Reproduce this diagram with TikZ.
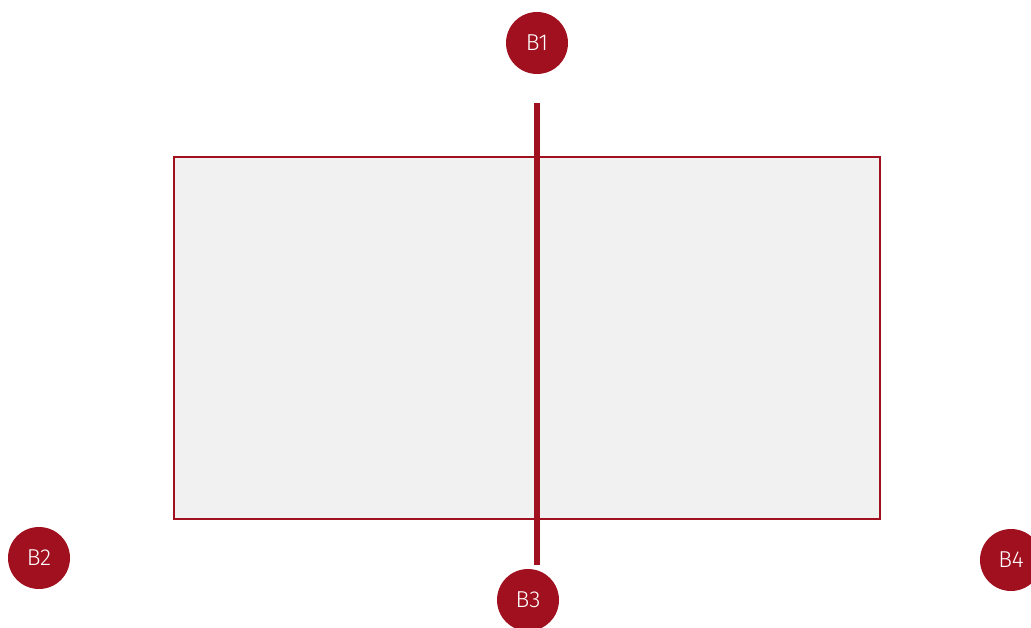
\documentclass[tikz,border=0pt]{standalone}
\usepackage{fontspec}
\setmainfont{Fira Sans Light}
\usepackage{tikz}
\definecolor{brandred}{HTML}{A0101F}
\definecolor{panelgray}{HTML}{F1F1F1}

\begin{document}
\begin{tikzpicture}[x=1pt, y=-1pt,
        badge/.style={shape=circle, fill=brandred, text=white, minimum size=62pt, inner sep=0pt, font=\fontsize{23}{23}\selectfont},
        panel/.style={draw=brandred, fill=panelgray, line width=1.6pt, minimum width=706pt, minimum height=362pt, inner sep=0pt}]
        \useasboundingbox (0,0) rectangle (1031,628);

        \node[panel] (P) at (527,338) {};

        \node[badge] (B1) at (537,43) {B1};
        \node[badge] (B2) at (39,558) {B2};
        \node[badge] (B3) at (528,600) {B3};
        \node[badge] (B4) at (1011,560) {B4};

        \coordinate (T) at (537,103);
        \coordinate (U) at (537,565);
        \draw[brandred, line width=6pt] (T) -- (U);
    \end{tikzpicture}
\end{document}
